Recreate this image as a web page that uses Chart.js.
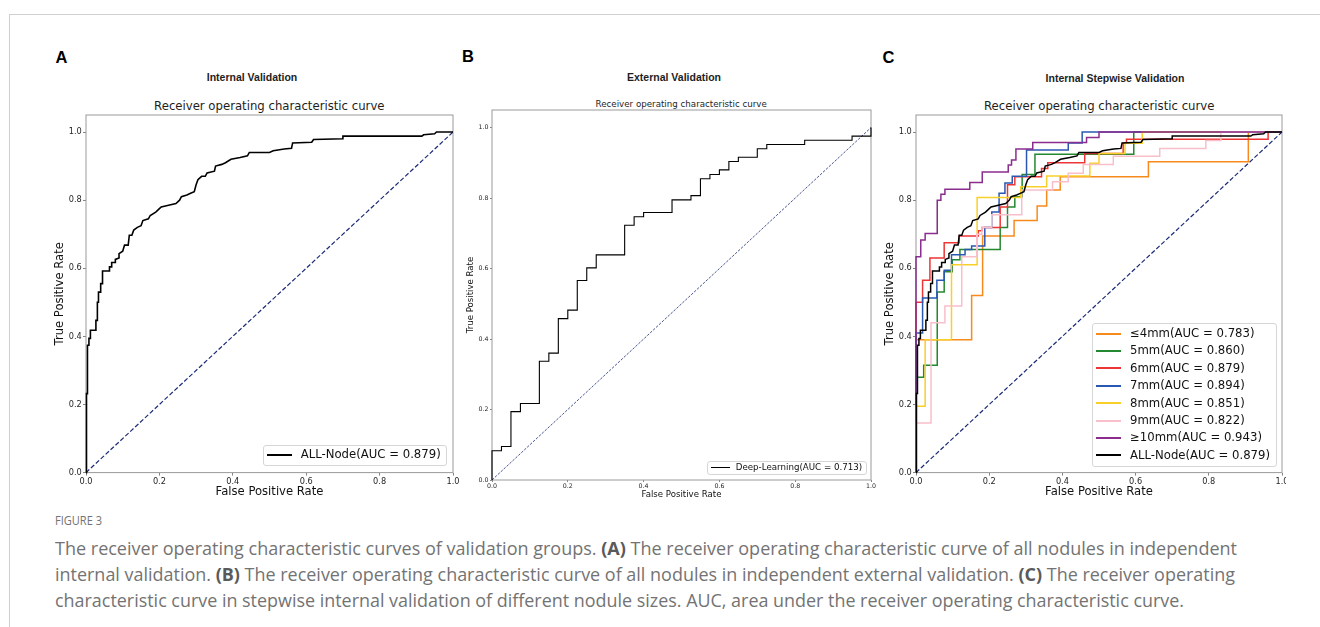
<!DOCTYPE html>
<html>
<head>
<meta charset="utf-8">
<script src="https://cdn.jsdelivr.net/npm/chart.js@4.4.1/dist/chart.umd.min.js"></script>
<style>
  html, body { margin: 0; padding: 0; background: #fff; }
  #page { position: relative; width: 1320px; height: 627px; overflow: hidden; background: #fff; }
  .abs { position: absolute; white-space: nowrap; }
  .rule-top { left: 9px; top: 14px; width: 1311px; height: 0; border-top: 1px solid #d0d0d0; }
  .rule-left { left: 9px; top: 14px; width: 0; height: 613px; border-left: 1px solid #d0d0d0; }
  .letter { font: bold 16.5px "Liberation Sans", Arial, sans-serif; line-height: 16.5px; color: #000; }
  .sub { font: bold 10.5px "Liberation Sans", Arial, sans-serif; line-height: 10.5px; color: #1e1e1e; width: 300px; text-align: center; }
  .ttl { font-family: "DejaVu Sans", sans-serif; color: #1e1e1e; width: 400px; text-align: center; }
  .box { position: absolute; }
  .clip { position: absolute; overflow: hidden; }
  .legend { position: absolute; box-sizing: border-box; border: 1px solid #d6d6d6; border-radius: 3px; background: rgba(255,255,255,0.85); }
  .leg-line { position: absolute; }
  .leg-text { position: absolute; font-family: "DejaVu Sans", sans-serif; color: #111; white-space: nowrap; }
  .cap { position: absolute; white-space: nowrap; font-family: "Open Sans", "DejaVu Sans Condensed", sans-serif; color: #737373; transform-origin: 0 0; }
  .cap b { color: #5a5a5a; }
</style>
</head>
<body>
<div id="page">
  <div class="abs rule-top"></div>
  <div class="abs rule-left"></div>

  <div class="abs letter" style="left:55.5px; top:48.7px;">A</div>
  <div class="abs letter" style="left:462px; top:48.3px;">B</div>
  <div class="abs letter" style="left:882.5px; top:48.9px;">C</div>

  <div class="abs sub" style="left:102px; top:72px;">Internal Validation</div>
  <div class="abs sub" style="left:524px; top:72px;">External Validation</div>
  <div class="abs sub" style="left:965px; top:73.4px;">Internal Stepwise Validation</div>

  <div class="abs ttl" style="left:69.3px; top:100.6px; font-size:11.7px; line-height:11.7px;">Receiver operating characteristic curve</div>
  <div class="abs ttl" style="left:481.2px; top:99.6px; font-size:8.7px; line-height:8.7px;">Receiver operating characteristic curve</div>
  <div class="abs ttl" style="left:899.2px; top:100.6px; font-size:11.7px; line-height:11.7px;">Receiver operating characteristic curve</div>

  <div class="box" style="left:53px; top:105px; width:412px; height:394px;"><canvas id="rocA"></canvas></div>
  <div class="box" style="left:466px; top:100px; width:415px; height:400px;"><canvas id="rocB"></canvas></div>
  <div class="clip" style="left:883px; top:105px; width:403px; height:394px;">
    <div class="box" style="left:0; top:0; width:411px; height:394px;"><canvas id="rocC"></canvas></div>
  </div>

  <div id="legends"></div>

  <div class="cap" id="capHead" style="left:55px; top:514px; font-size:13px; line-height:13px;">FIGURE 3</div>
  <div class="cap" id="cap1" style="left:55px; top:535px; font-size:18.5px; line-height:26px;">The receiver operating characteristic curves of validation groups. <b>(A)</b> The receiver operating characteristic curve of all nodules in independent</div>
  <div class="cap" id="cap2" style="left:55px; top:561px; font-size:18.5px; line-height:26px;">internal validation. <b>(B)</b> The receiver operating characteristic curve of all nodules in independent external validation. <b>(C)</b> The receiver operating</div>
  <div class="cap" id="cap3" style="left:55px; top:587px; font-size:18.5px; line-height:26px;">characteristic curve in stepwise internal validation of different nodule sizes. AUC, area under the receiver operating characteristic curve.</div>
</div>

<script>
// ---- values (false / true positive rates) ----
const fprAll = [0, 0, 0.002, 0.002, 0.004, 0.004, 0.008, 0.008, 0.012, 0.012,
  0.027, 0.027, 0.031, 0.031, 0.034, 0.034, 0.04, 0.04, 0.045, 0.045,
  0.064, 0.064, 0.07, 0.07, 0.08, 0.08, 0.09, 0.09, 0.1, 0.105,
  0.115, 0.118, 0.125, 0.13, 0.14, 0.15, 0.155, 0.17, 0.175, 0.19,
  0.2, 0.205, 0.225, 0.245, 0.255, 0.26, 0.275, 0.285, 0.295, 0.3,
  0.305, 0.315, 0.325, 0.33, 0.35, 0.353, 0.37, 0.38, 0.395, 0.42,
  0.44, 0.445, 0.5, 0.51, 0.54, 0.56, 0.563, 0.615, 0.62, 0.7,
  0.7, 0.915, 0.92, 0.95, 0.955, 1];
const tprAll = [0, 0.149, 0.149, 0.232, 0.232, 0.374, 0.374, 0.394, 0.394, 0.418,
  0.418, 0.447, 0.447, 0.5, 0.5, 0.53, 0.53, 0.555, 0.555, 0.592,
  0.592, 0.604, 0.604, 0.617, 0.617, 0.626, 0.63, 0.643, 0.65, 0.668,
  0.668, 0.697, 0.697, 0.712, 0.72, 0.725, 0.74, 0.745, 0.755, 0.765,
  0.775, 0.78, 0.785, 0.79, 0.8, 0.81, 0.815, 0.82, 0.825, 0.845,
  0.86, 0.87, 0.87, 0.88, 0.885, 0.9, 0.905, 0.91, 0.92, 0.925,
  0.93, 0.94, 0.94, 0.945, 0.95, 0.952, 0.968, 0.97, 0.978, 0.98,
  0.988, 0.988, 0.992, 0.995, 1, 1];

const fprExt = [0, 0, 0.025, 0.025, 0.05, 0.05, 0.075, 0.075, 0.125, 0.125, 0.15, 0.15, 0.175, 0.175,
  0.2, 0.2, 0.225, 0.225, 0.25, 0.25, 0.275, 0.275, 0.35, 0.35, 0.375, 0.375, 0.4, 0.4,
  0.475, 0.475, 0.525, 0.525, 0.55, 0.55, 0.575, 0.575, 0.6, 0.6, 0.625, 0.625, 0.65, 0.65,
  0.7, 0.7, 0.725, 0.725, 0.825, 0.825, 0.95, 0.95, 1, 1];
const tprExt = [0, 0.083, 0.083, 0.095, 0.095, 0.194, 0.194, 0.217, 0.217, 0.337, 0.337, 0.36, 0.36, 0.458,
  0.458, 0.482, 0.482, 0.566, 0.566, 0.602, 0.602, 0.639, 0.639, 0.723, 0.723, 0.747, 0.747, 0.759,
  0.759, 0.795, 0.795, 0.807, 0.807, 0.855, 0.855, 0.867, 0.867, 0.88, 0.88, 0.904, 0.904, 0.916,
  0.916, 0.94, 0.94, 0.952, 0.952, 0.964, 0.964, 0.976, 0.976, 1];

const fpr4mm = [0, 0, 0.152, 0.152, 0.182, 0.182, 0.268, 0.268, 0.331, 0.331, 0.357, 0.357, 0.394, 0.394, 0.635, 0.635, 0.908, 0.908, 1];
const tpr4mm = [0, 0.39, 0.39, 0.52, 0.52, 0.695, 0.695, 0.74, 0.74, 0.783, 0.783, 0.83, 0.83, 0.869, 0.869, 0.913, 0.913, 1, 1];

const fpr5mm = [0, 0, 0.021, 0.021, 0.058, 0.058, 0.077, 0.077, 0.099, 0.099, 0.12, 0.12, 0.23, 0.23, 0.25, 0.25, 0.27, 0.27, 0.29, 0.29, 0.325, 0.325, 0.595, 0.595, 1];
const tpr5mm = [0, 0.28, 0.28, 0.315, 0.315, 0.53, 0.53, 0.59, 0.59, 0.625, 0.625, 0.655, 0.655, 0.72, 0.72, 0.78, 0.78, 0.81, 0.81, 0.875, 0.875, 0.935, 0.935, 1, 1];

const fpr6mm = [0, 0, 0.018, 0.018, 0.038, 0.038, 0.077, 0.077, 0.118, 0.118, 0.17, 0.17, 0.18, 0.18, 0.23, 0.23, 0.25, 0.25, 0.27, 0.27, 0.343, 0.343, 0.36, 0.36, 0.461, 0.461, 0.566, 0.566, 0.575, 0.575, 0.962, 0.962, 1];
const tpr6mm = [0, 0.5, 0.5, 0.565, 0.565, 0.63, 0.63, 0.675, 0.675, 0.695, 0.695, 0.71, 0.71, 0.72, 0.72, 0.78, 0.78, 0.845, 0.845, 0.869, 0.869, 0.893, 0.893, 0.91, 0.91, 0.937, 0.937, 0.967, 0.967, 0.979, 0.979, 1, 1];

const fpr7mm = [0, 0, 0.018, 0.018, 0.057, 0.057, 0.077, 0.077, 0.097, 0.097, 0.134, 0.134, 0.152, 0.152, 0.188, 0.188, 0.207, 0.207, 0.227, 0.227, 0.243, 0.243, 0.263, 0.263, 0.302, 0.302, 0.416, 0.416, 0.454, 0.454, 1];
const tpr7mm = [0, 0.41, 0.41, 0.513, 0.513, 0.565, 0.565, 0.594, 0.594, 0.64, 0.64, 0.655, 0.655, 0.665, 0.665, 0.72, 0.72, 0.765, 0.765, 0.82, 0.82, 0.85, 0.85, 0.87, 0.87, 0.947, 0.947, 0.968, 0.968, 1, 1];

const fpr8mm = [0, 0, 0.025, 0.025, 0.097, 0.097, 0.167, 0.167, 0.286, 0.286, 0.357, 0.357, 0.475, 0.475, 0.5, 0.5, 0.571, 0.571, 0.618, 0.618, 1];
const tpr8mm = [0, 0.195, 0.195, 0.39, 0.39, 0.61, 0.61, 0.808, 0.808, 0.839, 0.839, 0.871, 0.871, 0.908, 0.908, 0.937, 0.937, 0.967, 0.967, 1, 1];

const fpr9mm = [0, 0, 0.041, 0.041, 0.079, 0.079, 0.125, 0.125, 0.166, 0.166, 0.18, 0.18, 0.207, 0.207, 0.289, 0.289, 0.373, 0.373, 0.416, 0.416, 0.457, 0.457, 0.539, 0.539, 0.666, 0.666, 0.792, 0.792, 0.833, 0.833, 1];
const tpr9mm = [0, 0.146, 0.146, 0.44, 0.44, 0.489, 0.489, 0.634, 0.634, 0.7, 0.7, 0.72, 0.72, 0.757, 0.757, 0.83, 0.83, 0.854, 0.854, 0.879, 0.879, 0.905, 0.905, 0.929, 0.929, 0.952, 0.952, 0.975, 0.975, 1, 1];

const fpr10mm = [0, 0, 0.013, 0.013, 0.025, 0.025, 0.058, 0.058, 0.068, 0.068, 0.079, 0.079, 0.147, 0.147, 0.181, 0.181, 0.252, 0.252, 0.261, 0.261, 0.273, 0.273, 0.319, 0.319, 0.466, 0.466, 0.5, 0.5, 1];
const tpr10mm = [0, 0.634, 0.634, 0.683, 0.683, 0.702, 0.702, 0.8, 0.8, 0.817, 0.817, 0.832, 0.832, 0.852, 0.852, 0.883, 0.883, 0.903, 0.903, 0.918, 0.918, 0.95, 0.95, 0.969, 0.969, 0.984, 0.984, 1, 1];

const chanceFpr = [0, 1];
const chanceTpr = [0, 1];

const axisTicks = [0, 0.2, 0.4, 0.6, 0.8, 1.0];

const labelAll = 'ALL-Node(AUC = 0.879)';
const labelExt = 'Deep-Learning(AUC = 0.713)';
const sizeLabels = ['\u22644mm(AUC = 0.783)', '5mm(AUC = 0.860)', '6mm(AUC = 0.879)', '7mm(AUC = 0.894)',
  '8mm(AUC = 0.851)', '9mm(AUC = 0.822)', '\u226510mm(AUC = 0.943)', 'ALL-Node(AUC = 0.879)'];
const sizeColors = ['#f78a1d', '#23882f', '#ee3535', '#2a57b2', '#f9cf2a', '#f8bfca', '#8a2d8e', '#000000'];

// ---- helpers ----
const FONT = '"DejaVu Sans", sans-serif';
const pts = (xs, ys) => xs.map((x, i) => ({ x: x, y: ys[i] }));

// plot frame (matplotlib spines), under the curves
const spines = {
  id: 'spines',
  beforeDatasetsDraw(chart) {
    const { ctx, chartArea: a } = chart;
    ctx.save();
    ctx.strokeStyle = '#9a9a9a';
    ctx.lineWidth = 1;
    ctx.strokeRect(a.left, a.top, a.right - a.left, a.bottom - a.top);
    ctx.restore();
  }
};

function axis(isX, s) {
  return {
    type: 'linear',
    min: 0,
    max: isX ? 1 : 1.05,
    afterBuildTicks: sc => { sc.ticks = axisTicks.map(v => ({ value: v })); },
    afterFit: sc => { if (isX) sc.height = s.xH; else sc.width = s.yW; },
    ticks: {
      callback: v => v.toFixed(1),
      font: { family: FONT, size: s.tick },
      color: '#262626',
      padding: isX ? s.xPad : s.yPad,
      maxRotation: 0,
      autoSkip: false
    },
    grid: { display: true, drawOnChartArea: false, drawTicks: true, tickLength: s.tickLen, color: '#666', lineWidth: 0.8 },
    border: { display: false },
    title: {
      display: true,
      text: isX ? 'False Positive Rate' : 'True Positive Rate',
      font: { family: FONT, size: s.label },
      color: '#111',
      padding: 0
    }
  };
}

function rocChart(id, datasets, s) {
  return new Chart(document.getElementById(id), {
    type: 'line',
    data: { datasets: datasets },
    options: {
      responsive: true,
      maintainAspectRatio: false,
      animation: false,
      events: [],
      layout: { padding: { top: s.padTop, right: s.padRight, left: 0, bottom: 0 } },
      plugins: { legend: { display: false }, tooltip: { enabled: false }, title: { display: false } },
      elements: { point: { radius: 0 }, line: { tension: 0 } },
      scales: { x: axis(true, s), y: axis(false, s) }
    },
    plugins: [spines]
  });
}

function curve(xs, ys, color, width, order) {
  return { data: pts(xs, ys), borderColor: color, borderWidth: width, fill: false, clip: 4, order: order };
}
function chance(width, dash, order) {
  return { data: pts(chanceFpr, chanceTpr), borderColor: '#1b2a78', borderWidth: width, borderDash: dash, fill: false, clip: 4, order: order };
}

// ---- panel A ----
rocChart('rocA', [
  curve(fprAll, tprAll, '#000', 1.6, 1),
  chance(1.2, [4.5, 2.2], 2)
], { padTop: 10, padRight: 12, yW: 33, xH: 26.4, tick: 8.2, label: 11.6, tickLen: 3, xPad: 1, yPad: 1.3 });

// ---- panel B ----
rocChart('rocB', [
  curve(fprExt, tprExt, '#000', 1.1, 1),
  chance(0.8, [2.6, 1.4], 2)
], { padTop: 10, padRight: 10, yW: 26, xH: 20, tick: 6.3, label: 8.6, tickLen: 2, xPad: 1, yPad: 1.4 });

// ---- panel C ----
const stepwise = [
  [fpr4mm, tpr4mm], [fpr5mm, tpr5mm], [fpr6mm, tpr6mm], [fpr7mm, tpr7mm],
  [fpr8mm, tpr8mm], [fpr9mm, tpr9mm], [fpr10mm, tpr10mm], [fprAll, tprAll]
];
const cSets = stepwise.map((c, i) => curve(c[0], c[1], sizeColors[i], 1.5, stepwise.length - i));
cSets.push(chance(1.2, [4.5, 2.2], 20));
rocChart('rocC', cSets, { padTop: 10, padRight: 12, yW: 33, xH: 26.4, tick: 8.2, label: 11.6, tickLen: 3, xPad: 1, yPad: 1.3 });

// ---- legends (inside the axes, lower right) ----
function legend(cfg) {
  const host = document.getElementById('legends');
  const box = document.createElement('div');
  box.className = 'legend';
  box.style.left = cfg.left + 'px';
  box.style.top = cfg.top + 'px';
  box.style.width = cfg.width + 'px';
  box.style.height = cfg.height + 'px';
  host.appendChild(box);
  cfg.labels.forEach((lab, i) => {
    const cy = cfg.rowY + i * cfg.rowGap;
    const ln = document.createElement('div');
    ln.className = 'leg-line';
    ln.style.left = Math.round(cfg.lineX0) + 'px';
    ln.style.width = Math.round(cfg.lineX1 - cfg.lineX0) + 'px';
    ln.style.top = Math.round(cy - cfg.lineW / 2) + 'px';
    ln.style.height = cfg.lineW + 'px';
    ln.style.background = cfg.colors[i];
    host.appendChild(ln);
    const tx = document.createElement('div');
    tx.className = 'leg-text';
    tx.textContent = lab;
    tx.style.left = cfg.textX + 'px';
    tx.style.fontSize = cfg.font + 'px';
    tx.style.lineHeight = cfg.rowGap + 'px';
    tx.style.top = (cy - cfg.rowGap / 2) + 'px';
    host.appendChild(tx);
  });
}

legend({ left: 263, top: 445, width: 184, height: 21, labels: [labelAll], colors: ['#000'],
  rowY: 454.8, rowGap: 17.4, lineX0: 267, lineX1: 292, lineW: 2, textX: 300.7, font: 11.7 });
legend({ left: 707.3, top: 460.7, width: 159.4, height: 14.3, labels: [labelExt], colors: ['#000'],
  rowY: 467.6, rowGap: 13, lineX0: 710.5, lineX1: 729, lineW: 1, textX: 735.7, font: 8.7 });
legend({ left: 1092.3, top: 323.3, width: 184.4, height: 143.4, labels: sizeLabels, colors: sizeColors,
  rowY: 333.6, rowGap: 17.4, lineX0: 1096.3, lineX1: 1121, lineW: 2, textX: 1130, font: 11.7 });

// ---- caption: stretch each line to the width it has in the figure ----
function fitWidth(id, target) {
  const el = document.getElementById(id);
  const w = el.getBoundingClientRect().width;
  if (w > 0) el.style.transform = 'scaleX(' + (target / w) + ')';
}
fitWidth('capHead', 47);
fitWidth('cap1', 1182);
fitWidth('cap2', 1180);
fitWidth('cap3', 1129);
</script>
</body>
</html>
